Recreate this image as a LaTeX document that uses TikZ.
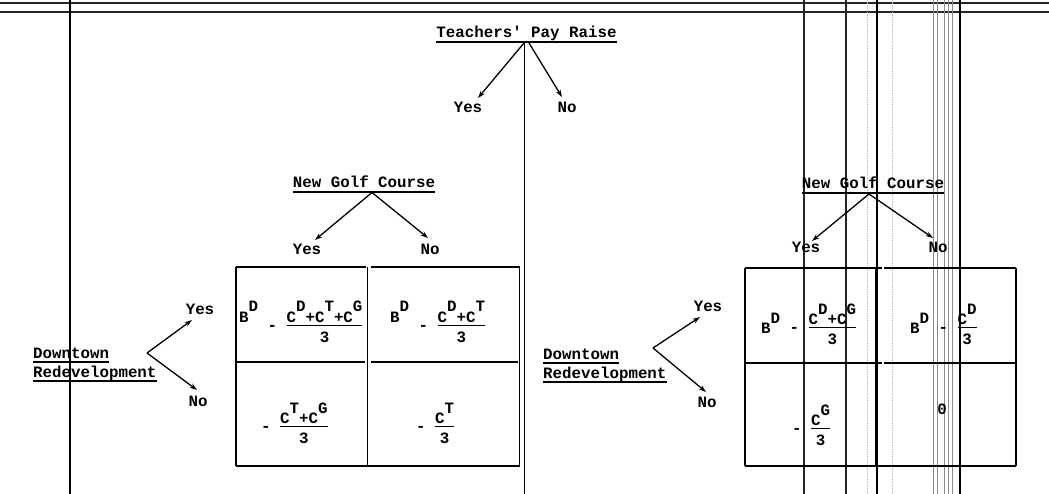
\documentclass[tikz,border=0pt]{standalone}
\usepackage{fontspec}
\newfontfamily\tw{Liberation Mono}
\usetikzlibrary{arrows.meta}
\newcommand\up[1]{\raisebox{10pt}{#1}}
\newcommand\dn[1]{\raisebox{-8pt}{#1}}
\newcommand\fr[2]{\begin{tabular}[t]{@{}c@{}}#1\\[-2.5pt]\hline\rule{0pt}{16pt}#2\end{tabular}}
\setlength\arrayrulewidth{1.2pt}
\begin{document}
\begin{tikzpicture}[x=1pt,y=-1pt,
  txt/.style={font=\tw\bfseries\fontsize{15.8}{19}\selectfont, inner sep=0pt},
  ul/.style={line width=1.4pt},
  arr/.style={line width=1.3pt,-{Stealth[length=7.5pt,width=5pt]}},
  tbl/.style={line width=1.8pt},
  scanline/.style={line width=1.1pt,black!85},
  thickscan/.style={line width=2pt,black},
  greyscan/.style={line width=0.8pt,black!45},
  faint/.style={line width=0.7pt,black!25,densely dotted}]
\useasboundingbox[fill=white] (0,0) rectangle (1049,494);

% ---- scan rules (top double line and vertical lines) ----
\draw[line width=2pt,black!85] (0,3.5) -- (1049,3.5);
\draw[line width=2pt,black!85] (0,12.5) -- (1049,12.5);
\draw[scanline,black] (70,0) -- (70,494);
\draw[scanline,black] (524.5,42) -- (524.5,494);
\draw[scanline] (804,0) -- (804,494);
\draw[scanline] (846,0) -- (846,494);
\draw[faint] (867,0) -- (867,494);
\draw[thickscan] (877,0) -- (877,494);
\draw[faint] (892,0) -- (892,494);
\draw[greyscan] (933,0) -- (933,494);
\draw[greyscan] (937,0) -- (937,494);
\draw[greyscan] (944,0) -- (944,494);
\draw[greyscan] (948,0) -- (948,494);
\draw[greyscan] (952,0) -- (952,494);
\draw[thickscan] (960,0) -- (960,494);

% ---- Teachers' Pay Raise ----
\node[txt,anchor=base] (tpr) at (526.5,37.5) {Teachers' Pay Raise};
\draw[ul] ([yshift=-4.5pt]tpr.base west) -- ([yshift=-4.5pt]tpr.base east);
\node[txt,anchor=base] (tYes) at (468,113) {Yes};
\node[txt,anchor=base] (tNo) at (567,113) {No};
\coordinate (tA) at (524,43);
\coordinate (tB) at (529,43);
\coordinate (tYesTip) at (478,98);
\coordinate (tNoTip) at (562,97);
\draw[arr] (tA) -- (tYesTip);
\draw[arr] (tB) -- (tNoTip);

% ---- Left: New Golf Course ----
\node[txt,anchor=base] (gL) at (364,187.5) {New Golf Course};
\draw[ul] ([yshift=-4.5pt]gL.base west) -- ([yshift=-4.5pt]gL.base east);
\node[txt,anchor=base] (gLYes) at (307,255) {Yes};
\node[txt,anchor=base] (gLNo) at (430,255) {No};
\coordinate (gLA) at (372,192.5);
\coordinate (gLYesTip) at (315,240);
\coordinate (gLNoTip) at (428,238);
\draw[arr] (gLA) -- (gLYesTip);
\draw[arr] (gLA) -- (gLNoTip);

% ---- Left: Downtown Redevelopment ----
\node[txt,anchor=base west] (dL1) at (33,358) {Downtown};
\node[txt,anchor=base west] (dL2) at (33,377) {Redevelopment};
\draw[ul] ([yshift=-4pt]dL1.base west) -- ([yshift=-4pt]dL1.base east);
\draw[ul] ([yshift=-4pt]dL2.base west) -- ([yshift=-4pt]dL2.base east);
\coordinate (dLv) at (147,353);
\node[txt,anchor=base] (dLYes) at (200,314) {Yes};
\node[txt,anchor=base] (dLNo) at (198,406) {No};
\coordinate (dLYesTip) at (192,320);
\coordinate (dLNoTip) at (197,390);
\draw[arr] (dLv) -- (dLYesTip);
\draw[arr] (dLv) -- (dLNoTip);

% ---- Left table ----
\draw[tbl] (236,267) -- (366,267);
\draw[tbl] (371,267) -- (520,267);
\draw[tbl] (236,267) -- (236,466);
\draw[tbl] (367.5,267) -- (367.5,466);
\draw[tbl] (519.5,267) -- (519.5,466);
\draw[tbl] (237,362) -- (365,362);
\draw[tbl] (371,362) -- (518,362);
\draw[tbl] (236,466) -- (520,466);
\node[txt,anchor=base west] (cLTL) at (239,322) {B\up{D} \dn{-} \fr{C\up{D}+C\up{T}+C\up{G}}{3}};
\node[txt,anchor=base west] (cLTR) at (390,322) {B\up{D} \dn{-} \fr{C\up{D}+C\up{T}}{3}};
\node[txt,anchor=base west] (cLBL) at (261,423) {\dn{-} \fr{C\up{T}+C\up{G}}{3}};
\node[txt,anchor=base west] (cLBR) at (416,423) {\dn{-} \fr{C\up{T}}{3}};

% ---- Right: New Golf Course ----
\node[txt,anchor=base] (gR) at (873,188.5) {New Golf Course};
\draw[ul] ([yshift=-4.5pt]gR.base west) -- ([yshift=-4.5pt]gR.base east);
\node[txt,anchor=base] (gRYes) at (806,253) {Yes};
\node[txt,anchor=base] (gRNo) at (938,253) {No};
\coordinate (gRA) at (869,194);
\coordinate (gRYesTip) at (812,241);
\coordinate (gRNoTip) at (933,238);
\draw[arr] (gRA) -- (gRYesTip);
\draw[arr] (gRA) -- (gRNoTip);

% ---- Right: Downtown Redevelopment ----
\node[txt,anchor=base west] (dR1) at (543,359) {Downtown};
\node[txt,anchor=base west] (dR2) at (543,378) {Redevelopment};
\draw[ul] ([yshift=-4pt]dR1.base west) -- ([yshift=-4pt]dR1.base east);
\draw[ul] ([yshift=-4pt]dR2.base west) -- ([yshift=-4pt]dR2.base east);
\coordinate (dRv) at (653,348);
\node[txt,anchor=base] (dRYes) at (708,312) {Yes};
\node[txt,anchor=base] (dRNo) at (707,407) {No};
\coordinate (dRYesTip) at (700,317);
\coordinate (dRNoTip) at (706,392);
\draw[arr] (dRv) -- (dRYesTip);
\draw[arr] (dRv) -- (dRNoTip);

% ---- Right table ----
\draw[tbl] (745,268) -- (882,268);
\draw[tbl] (884,268) -- (1016,268);
\draw[tbl] (745,268) -- (745,466);
\draw[tbl] (876,268) -- (876,466);
\draw[tbl] (1016,268) -- (1016,466);
\draw[tbl] (745,363) -- (882,363);
\draw[tbl] (884,363) -- (1015,363);
\draw[tbl] (745,466) -- (1016,466);
\node[txt,anchor=base west] (cRTL) at (761,324) {\raisebox{-9pt}{B\up{D}} \dn{-} \fr{C\up{D}+C\up{G}}{3}};
\node[txt,anchor=base west] (cRTR) at (910,324) {\raisebox{-9pt}{B\up{D}} \dn{-} \fr{C\up{D}}{3}};
\node[txt,anchor=base west] (cRBL) at (792,425) {\dn{-} \fr{C\up{G}}{3}};
\node[txt,anchor=base] (cRBR) at (942,414) {0};
\end{tikzpicture}
\end{document}
